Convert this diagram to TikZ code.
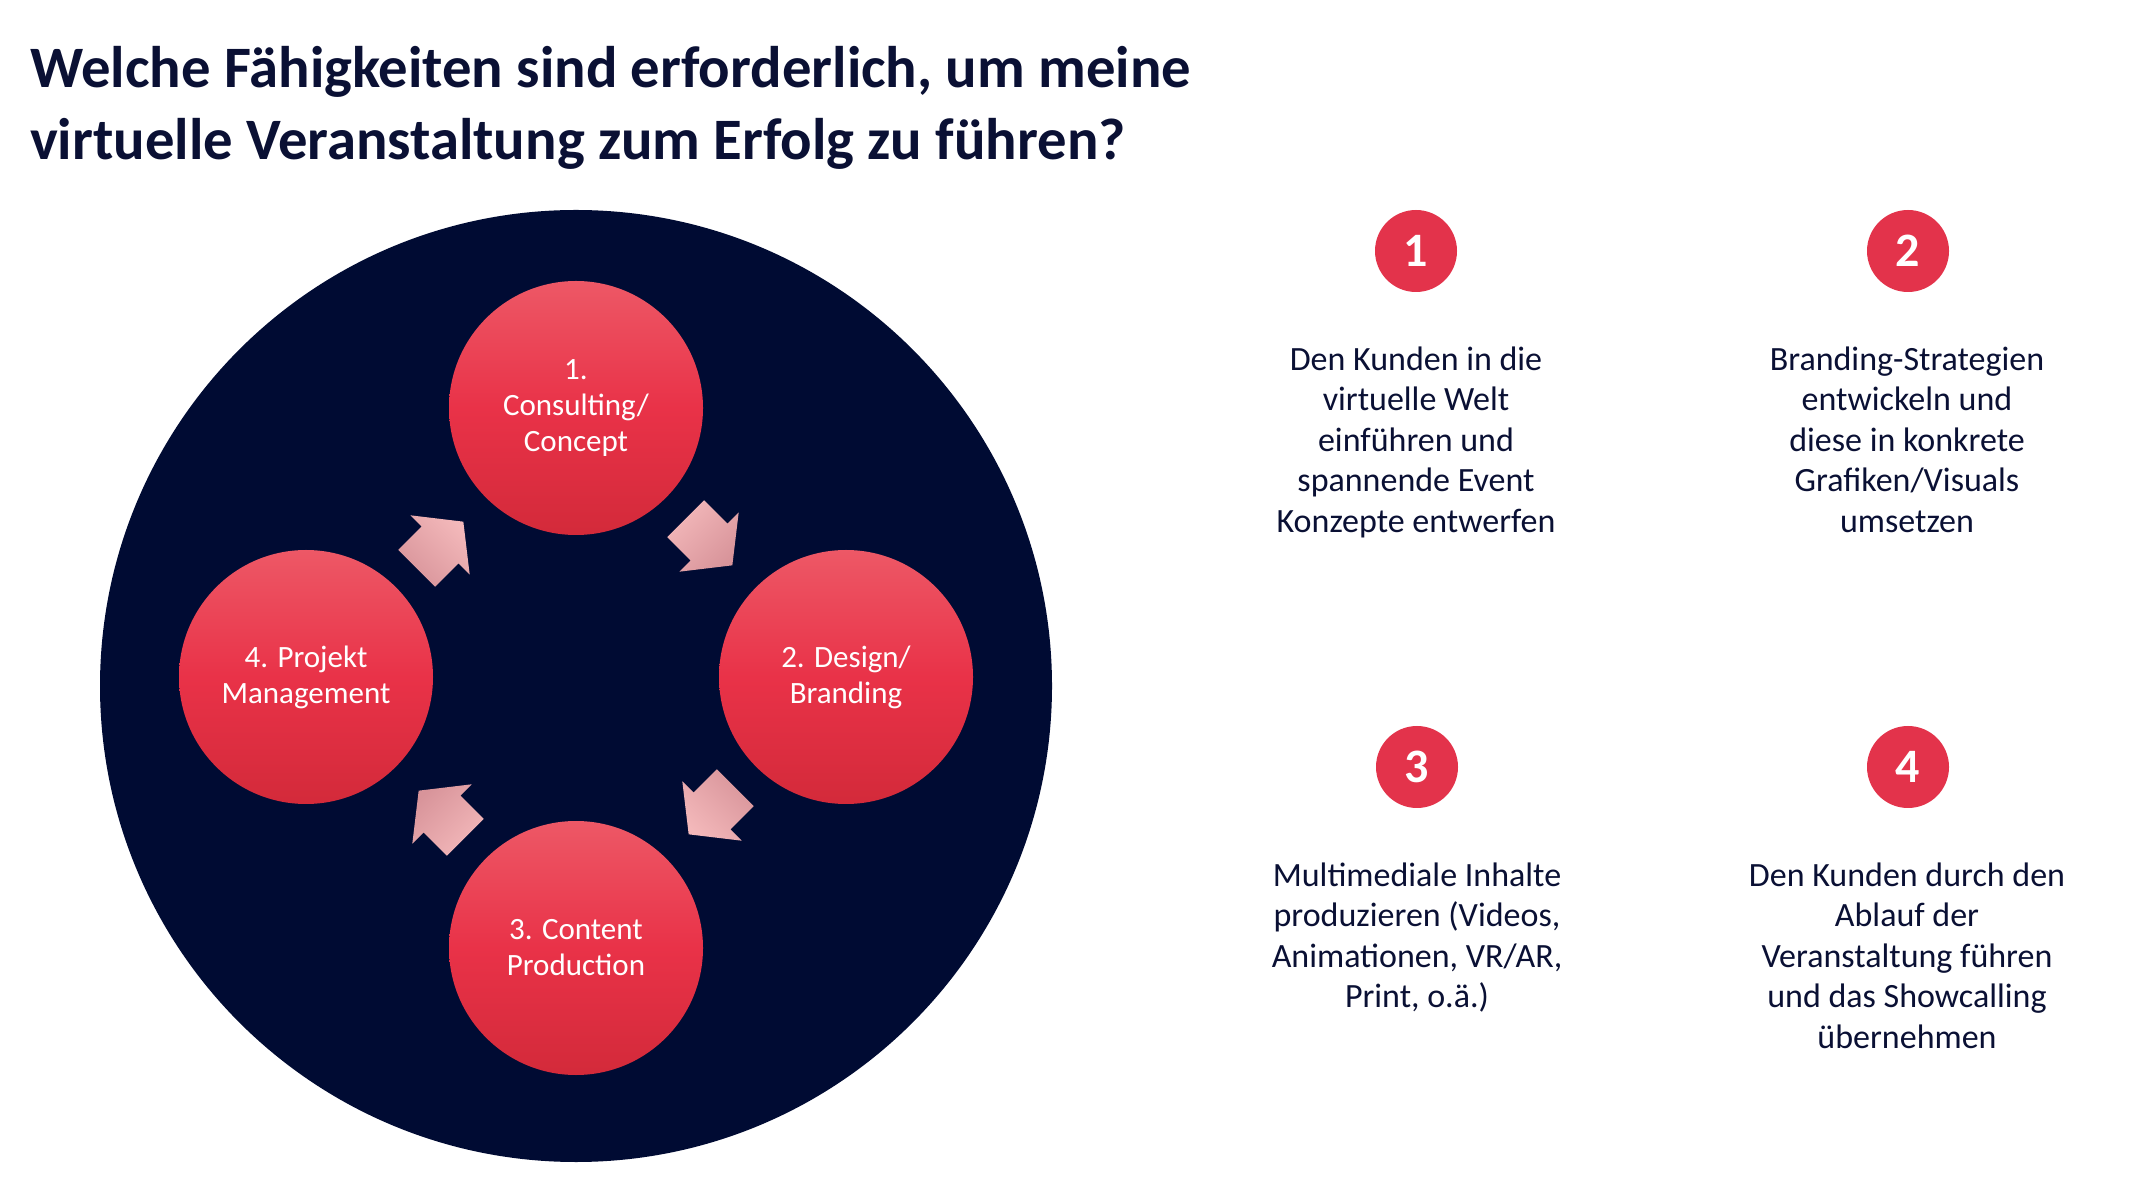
\documentclass[tikz,border=0pt]{standalone}
\usepackage{fontspec}
\setmainfont{Carlito}
\definecolor{navy}{RGB}{0,11,51}
\definecolor{redtop}{RGB}{237,88,102}
\definecolor{redmid}{RGB}{233,50,72}
\definecolor{redbot}{RGB}{211,42,58}
\definecolor{badgered}{RGB}{227,51,75}
\definecolor{pinktop}{RGB}{243,184,186}
\definecolor{pinkbot}{RGB}{216,148,154}
\definecolor{txt}{RGB}{10,16,52}
\begin{document}
\begin{tikzpicture}[x=1pt,y=1pt,
  stage/.style={circle, minimum size=254pt, inner sep=0pt, top color=redtop, bottom color=redbot, middle color=redmid, text=white, align=center, font=\fontsize{31}{36}\selectfont},
  badgenode/.style={circle, fill=badgered, minimum size=82pt, inner sep=0pt, text=white, font=\fontsize{48}{48}\selectfont\bfseries},
  desc/.style={text=txt, align=center, anchor=north, inner sep=0pt, font=\fontsize{34}{40.5}\selectfont},
  cyclearrow/.style={top color=pinktop, bottom color=pinkbot}
]
\useasboundingbox[fill=white] (0,0) rectangle (2146,1176);

% title
\node[anchor=north west, inner sep=0pt, align=left, text=txt, font=\fontsize{58.7}{72}\selectfont\bfseries] (title) at (30,1139.4)
  {\strut Welche Fähigkeiten sind erforderlich, um meine\\ virtuelle Veranstaltung zum Erfolg zu führen?};

% big background circle
\node[circle, fill=navy, minimum size=952pt, inner sep=0pt] (bg) at (576,490) {};

% stages
\node[stage] (s1) at (576,768) {1.\\Consulting/\\Concept};
\node[stage] (s2) at (846,499) {2. Design/\\Branding};
\node[stage] (s3) at (576,228) {3. Content\\Production};
\node[stage] (s4) at (306,499) {4. Projekt\\Management};

% block arrows
\foreach \cx/\cy/\ang in {709/634/-45, 712/365/-135, 442/362/135, 440/631/45}{
  \shade[cyclearrow, shading angle=-\ang, shift={(\cx,\cy)}, rotate=\ang]
    (-33,-26) -- (0,-26) -- (0,-42) -- (33,0) -- (0,42) -- (0,26) -- (-33,26) -- cycle;
}

% badges
\node[badgenode] (b1) at (1416,925) {1};
\node[badgenode] (b2) at (1908,925) {2};
\node[badgenode] (b3) at (1417,409) {3};
\node[badgenode] (b4) at (1908,409) {4};

% descriptions
\node[desc] (d1) at (1416,834.35) {\strut Den Kunden in die\\ virtuelle Welt\\ einführen und\\ spannende Event\\ Konzepte entwerfen};
\node[desc] (d2) at (1907,834.35) {\strut Branding-Strategien\\ entwickeln und\\ diese in konkrete\\ Grafiken/Visuals\\ umsetzen};
\node[desc] (d3) at (1417,318.35) {\strut Multimediale Inhalte\\ produzieren (Videos,\\ Animationen, VR/AR,\\ Print, o.ä.)};
\node[desc] (d4) at (1907,318.35) {\strut Den Kunden durch den\\ Ablauf der\\ Veranstaltung führen\\ und das Showcalling\\ übernehmen};
\end{tikzpicture}
\end{document}
